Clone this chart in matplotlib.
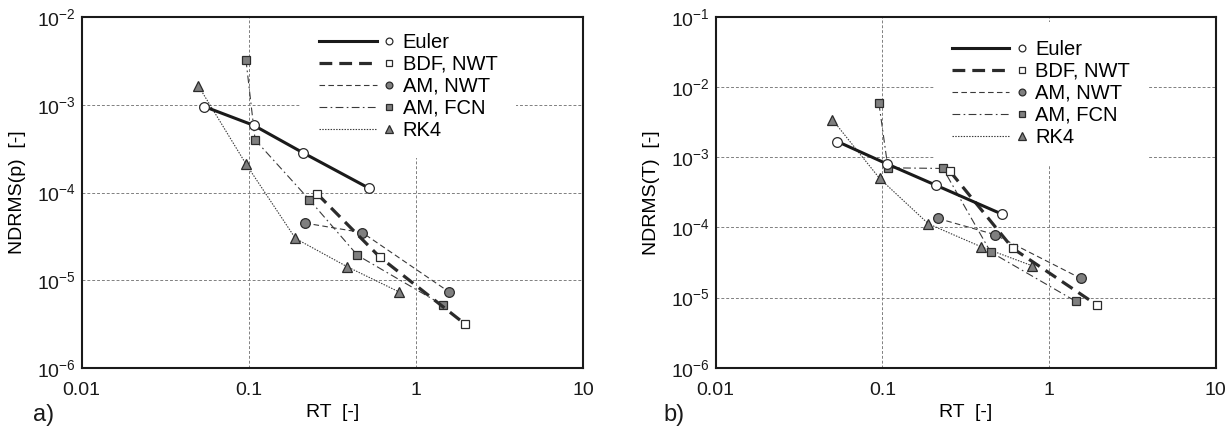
import numpy as np
import matplotlib
matplotlib.use("Agg")
import matplotlib.pyplot as plt
from matplotlib.legend_handler import HandlerLine2DCompound
from matplotlib.ticker import FixedLocator, FuncFormatter, NullLocator

plt.rcParams["font.family"] = ["Liberation Sans", "DejaVu Sans"]
plt.rcParams["mathtext.fontset"] = "custom"
plt.rcParams["mathtext.rm"] = "Liberation Sans"
plt.rcParams["mathtext.it"] = "Liberation Sans:italic"

# ---- (a) pressure error vs. relative runtime ----
euler_rt_p = [0.054, 0.107, 0.21, 0.52]
euler_p = [9.6e-4, 5.85e-4, 2.86e-4, 1.13e-4]

bdf_rt_p = [0.256, 0.605, 1.95]
bdf_p = [9.7e-5, 1.85e-5, 3.2e-6]

amn_rt_p = [0.216, 0.477, 1.57]
amn_p = [4.5e-5, 3.5e-5, 7.4e-6]

amf_rt_p = [0.096, 0.109, 0.23, 0.446, 1.45]
amf_p = [3.3e-3, 4.0e-4, 8.3e-5, 1.93e-5, 5.2e-6]

rk4_rt_p = [0.0498, 0.0964, 0.19, 0.387, 0.788]
rk4_p = [1.66e-3, 2.1e-4, 3.0e-5, 1.43e-5, 7.4e-6]

# ---- (b) temperature error vs. relative runtime ----
euler_rt_t = [0.0537, 0.1067, 0.211, 0.519]
euler_t = [1.67e-3, 8.0e-4, 3.95e-4, 1.55e-4]

bdf_rt_t = [0.255, 0.607, 1.94]
bdf_t = [6.25e-4, 5.0e-5, 7.8e-6]

amn_rt_t = [0.215, 0.471, 1.545]
amn_t = [1.34e-4, 7.9e-5, 1.88e-5]

amf_rt_t = [0.0953, 0.108, 0.231, 0.446, 1.45]
amf_t = [5.9e-3, 7.05e-4, 6.9e-4, 4.45e-5, 8.8e-6]

rk4_rt_t = [0.0501, 0.0963, 0.189, 0.39, 0.787]
rk4_t = [3.43e-3, 4.97e-4, 1.12e-4, 5.3e-5, 2.85e-5]

labels = ["Euler", "BDF, NWT", "AM, NWT", "AM, FCN", "RK4"]
x_ticks = [0.01, 0.1, 1, 10]

GRAY = "#7f7f7f"
EDGE = "#2b2b2b"
LINE = "#3a3a3a"

styles = [
    dict(color="#1a1a1a", lw=2.2, ls="-", marker="o", mfc="white", mec=EDGE, ms=7, zorder=6),
    dict(color="#2b2b2b", lw=2.3, dashes=(4.0, 2.2), marker="s", mfc="white", mec=EDGE, ms=6.3, zorder=5),
    dict(color=LINE, lw=0.8, dashes=(5, 3), marker="o", mfc=GRAY, mec=EDGE, ms=7, zorder=4),
    dict(color=LINE, lw=0.8, dashes=(7, 3, 1.5, 3), marker="s", mfc=GRAY, mec=EDGE, ms=6.3, zorder=4),
    dict(color=LINE, lw=0.8, dashes=(1.3, 1.2), marker="^", mfc=GRAY, mec=EDGE, ms=7.5, zorder=3),
]


class MarkerAtEnd(HandlerLine2DCompound):
    # line on the left, a single marker sitting at the right end
    def get_xdata(self, legend, xdescent, ydescent, width, height, fontsize):
        xdata = np.array([-xdescent, -xdescent + 0.82 * width])
        return xdata, np.array([-xdescent + width])


def draw_panel(ax, series, ylabel, ylim, leg_anchor):
    for (x, y), lab, st in zip(series, labels, styles):
        ax.plot(x, y, label=lab, mew=0.9, **st)

    ax.set_xscale("log")
    ax.set_yscale("log")
    ax.set_xlim(0.01, 10)
    ax.set_ylim(*ylim)
    ax.xaxis.set_major_locator(FixedLocator(x_ticks))
    ax.xaxis.set_major_formatter(FuncFormatter(lambda v, p: f"{v:g}"))
    ax.xaxis.set_minor_locator(NullLocator())
    ax.yaxis.set_minor_locator(NullLocator())
    ax.tick_params(length=0, labelsize=14, colors="#1a1a1a")
    ax.tick_params(axis="x", pad=10)
    ax.tick_params(axis="y", pad=4)

    ax.grid(True, which="major", color="#808080", lw=0.7, ls=(0, (3, 2)))
    ax.set_axisbelow(True)
    for sp in ax.spines.values():
        sp.set_linewidth(1.5)
        sp.set_color("#1a1a1a")
        sp.set_zorder(10)

    ax.set_xlabel("RT  [-]", fontsize=14, labelpad=4)
    ax.set_ylabel(ylabel, fontsize=14, labelpad=8)

    leg = ax.legend(loc="upper right", bbox_to_anchor=leg_anchor,
                    numpoints=1, fontsize=14.5, frameon=True, fancybox=False,
                    framealpha=1, edgecolor="none", facecolor="white",
                    handlelength=3.5, handletextpad=0.65, labelspacing=0.15,
                    borderpad=0.9, borderaxespad=0, markerscale=0.7,
                    handler_map={matplotlib.lines.Line2D: MarkerAtEnd()})
    leg.set_zorder(2.5)
    return leg


fig = plt.figure(figsize=(12.28, 4.29), dpi=100)
ax1 = fig.add_axes([0.0665, 0.1422, 0.4085, 0.8175])
ax2 = fig.add_axes([0.5828, 0.1429, 0.4072, 0.818])

draw_panel(ax1,
           [(euler_rt_p, euler_p), (bdf_rt_p, bdf_p), (amn_rt_p, amn_p),
            (amf_rt_p, amf_p), (rk4_rt_p, rk4_p)],
           "NDRMS(p)  [-]", (1e-6, 1e-2), (0.865, 1.008))
draw_panel(ax2,
           [(euler_rt_t, euler_t), (bdf_rt_t, bdf_t), (amn_rt_t, amn_t),
            (amf_rt_t, amf_t), (rk4_rt_t, rk4_t)],
           "NDRMS(T)  [-]", (1e-6, 1e-1), (0.865, 0.9865))

fig.text(0.027, 0.019, "a)", fontsize=17, color="#1a1a1a", va="baseline")
fig.text(0.540, 0.019, "b)", fontsize=17, color="#1a1a1a", va="baseline")

fig.savefig("out.png", dpi=100)
